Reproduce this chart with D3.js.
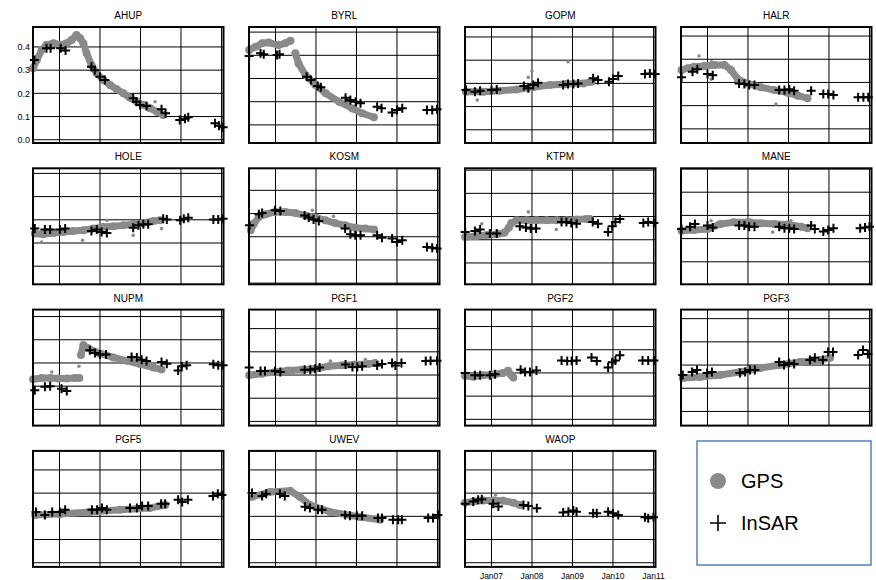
<!DOCTYPE html>
<html>
<head>
<meta charset="utf-8">
<script src="https://cdn.jsdelivr.net/npm/d3@7"></script>
<style>
  body { margin: 0; background: #fff; }
  text { font-family: "Liberation Sans", Arial, sans-serif; }
</style>
</head>
<body>
<svg id="chart" width="876" height="580"></svg>
<script>
// Station names, in panel order (row by row)
const stations = ["AHUP", "BYRL", "GOPM", "HALR", "HOLE", "KOSM", "KTPM", "MANE",
                  "NUPM", "PGF1", "PGF2", "PGF3", "PGF5", "UWEV", "WAOP"];
// top of each panel's y range (every panel spans 0.5)
const yTops = [0.486, 0.422, 0.443, 0.439, 0.422, 0.495, 0.508, 0.503,
               0.43, 0.482, 0.473, 0.439, 0.482, 0.482, 0.482];

const yearTicks = [2007, 2008, 2009, 2010, 2011];
const yearLabels = ["Jan07", "Jan08", "Jan09", "Jan10", "Jan11"];
const yTickValues = [0, 0.1, 0.2, 0.3, 0.4];
const yTickLabels = ["0.0", "0.1", "0.2", "0.3", "0.4"];

// GPS series [decimal year, value]; null = gap in the record
const gpsAHUP = [[2006.35,0.308],[2006.44,0.344],[2006.56,0.387],[2006.68,0.409],[2006.85,0.416],[2007.01,0.409],[2007.18,0.416],[2007.3,0.43],[2007.42,0.452],[2007.51,0.437],[2007.59,0.416],[2007.67,0.373],[2007.79,0.322],[2007.92,0.287],[2008.08,0.258],[2008.25,0.236],[2008.41,0.218],[2008.58,0.2],[2008.74,0.181],[2008.91,0.164],[2009.07,0.15],[2009.24,0.136],[2009.4,0.121],[2009.56,0.107]];
const gpsBYRL = [[2006.35,0.323],[2006.51,0.337],[2006.67,0.352],[2006.83,0.355],[2007.08,0.344],[2007.24,0.352],[2007.37,0.363],null,[2007.49,0.309],[2007.57,0.265],[2007.74,0.215],[2007.99,0.172],[2008.24,0.136],[2008.57,0.1],[2008.9,0.071],[2009.14,0.05],[2009.43,0.033]];
const gpsGOPM = [[2006.37,0.164],[2006.8,0.164],[2007.21,0.168],[2007.62,0.174],[2008.03,0.183],[2008.44,0.193],[2008.85,0.197],[2009.27,0.2],[2009.47,0.207]];
const gpsHALR = [[2006.36,0.254],[2006.51,0.261],[2006.67,0.268],[2006.92,0.271],[2007.17,0.275],[2007.42,0.275],[2007.58,0.254],[2007.75,0.214],[2007.99,0.196],[2008.32,0.179],[2008.65,0.167],[2008.98,0.156],[2009.23,0.143],[2009.47,0.132]];
const gpsHOLE = [[2006.39,0.141],[2006.6,0.138],[2006.85,0.143],[2007.09,0.147],[2007.34,0.152],[2007.59,0.155],[2007.83,0.162],[2008.08,0.169],[2008.33,0.172],[2008.58,0.176],[2008.82,0.181],[2009.07,0.186],[2009.32,0.195],[2009.48,0.198]];
const gpsKOSM = [[2006.39,0.228],[2006.47,0.257],[2006.59,0.285],[2006.76,0.297],[2006.99,0.307],[2007.24,0.307],[2007.49,0.302],[2007.73,0.292],[2007.98,0.283],[2008.23,0.271],[2008.47,0.259],[2008.72,0.249],[2008.97,0.239],[2009.22,0.235],[2009.43,0.231]];
const gpsKTPM = [[2006.35,0.212],[2006.63,0.216],[2006.88,0.22],[2007.13,0.224],[2007.32,0.23],[2007.43,0.253],[2007.49,0.272],[2007.62,0.284],[2007.87,0.284],[2008.11,0.284],[2008.36,0.284],[2008.61,0.284],[2008.85,0.284],[2009.1,0.287],[2009.35,0.29],[2009.43,0.29]];
const gpsMANE = [[2006.36,0.234],[2006.67,0.237],[2007.0,0.241],[2007.32,0.263],[2007.64,0.27],[2007.99,0.27],[2008.32,0.266],[2008.65,0.263],[2008.98,0.261],[2009.31,0.251],[2009.47,0.245]];
const gpsNUPM = [[2006.35,0.13],[2006.56,0.135],[2006.77,0.135],[2006.97,0.133],[2007.18,0.133],[2007.38,0.135],[2007.49,0.135],null,[2007.53,0.234],[2007.59,0.277],[2007.71,0.263],[2008.0,0.241],[2008.33,0.224],[2008.66,0.209],[2008.99,0.195],[2009.32,0.18],[2009.52,0.172]];
const gpsPGF1 = [[2006.35,0.199],[2006.67,0.206],[2006.99,0.213],[2007.32,0.22],[2007.65,0.223],[2007.98,0.227],[2008.31,0.238],[2008.64,0.242],[2008.97,0.245],[2009.3,0.248],[2009.46,0.252]];
const gpsPGF2 = [[2006.35,0.187],[2006.55,0.184],[2006.8,0.19],[2007.04,0.193],[2007.29,0.2],[2007.41,0.209],[2007.49,0.19],[2007.54,0.18]];
const gpsPGF3 = [[2006.39,0.144],[2006.81,0.148],[2007.31,0.157],[2007.8,0.17],[2008.3,0.187],[2008.79,0.2],[2009.28,0.213],[2009.78,0.222],[2010.03,0.231]];
const gpsPGF5 = [[2006.4,0.206],[2007.01,0.21],[2007.75,0.219],[2008.49,0.228],[2009.23,0.236],[2009.61,0.249]];
const gpsUWEV = [[2006.42,0.284],[2006.86,0.305],[2007.36,0.31],[2007.6,0.284],[2007.85,0.249],[2008.35,0.219],[2009.09,0.197],[2009.58,0.185]];
const gpsWAOP = [[2006.35,0.259],[2006.55,0.264],[2006.8,0.268],[2007.04,0.268],[2007.29,0.267],[2007.54,0.259],[2007.7,0.249]];

// stray GPS points off the main band
const spotsAHUP = [[2009.36,0.164]];
const spotsBYRL = [];
const spotsGOPM = [[2008.89,0.293],[2008.0,0.253],[2007.91,0.226],[2006.65,0.128]];
const spotsHALR = [[2006.79,0.314],[2007.1,0.289],[2008.69,0.107],[2007.09,0.214]];
const spotsHOLE = [[2007.57,0.112],[2008.82,0.133],[2006.56,0.104],[2009.52,0.162],[2008.17,0.198]];
const spotsKOSM = [[2007.91,0.314],[2008.43,0.288]];
const spotsKTPM = [[2007.91,0.32],[2008.6,0.244],[2006.76,0.269]];
const spotsMANE = [[2008.61,0.228],[2007.09,0.277],[2008.07,0.28],[2009.06,0.277]];
const spotsNUPM = [[2007.48,0.186],[2006.81,0.161]];
const spotsPGF1 = [[2009.22,0.267],[2008.36,0.26],[2007.44,0.206]];
const spotsPGF2 = [];
const spotsPGF3 = [];
const spotsPGF5 = [];
const spotsUWEV = [];
const spotsWAOP = [[2007.1,0.292]];

// InSAR series [decimal year, value]
const insarAHUP = [[2006.38,0.344],[2006.68,0.394],[2006.78,0.394],[2007.03,0.394],[2007.15,0.385],[2007.79,0.315],[2007.87,0.3],[2008.0,0.272],[2008.12,0.258],[2008.82,0.179],[2008.9,0.164],[2008.99,0.15],[2009.15,0.146],[2009.52,0.131],[2009.62,0.114],[2009.97,0.085],[2010.1,0.09],[2010.18,0.097],[2010.84,0.071],[2010.94,0.06],[2011.04,0.054]];
const insarBYRL = [[2006.35,0.297],[2006.63,0.309],[2006.71,0.305],[2007.04,0.301],[2007.1,0.305],[2007.77,0.208],[2007.88,0.194],[2008.04,0.168],[2008.12,0.162],[2008.73,0.117],[2008.85,0.107],[2008.98,0.1],[2009.1,0.093],[2009.51,0.078],[2009.62,0.072],[2009.88,0.053],[2010.0,0.064],[2010.13,0.072],[2010.74,0.064],[2010.87,0.064],[2010.99,0.067]];
const insarGOPM = [[2006.37,0.171],[2006.59,0.164],[2006.72,0.168],[2007.0,0.171],[2007.13,0.174],[2007.8,0.189],[2007.91,0.179],[2008.03,0.193],[2008.15,0.203],[2008.77,0.193],[2008.89,0.197],[2009.02,0.197],[2009.14,0.2],[2009.51,0.222],[2009.63,0.215],[2009.9,0.207],[2010.0,0.219],[2010.13,0.232],[2010.79,0.24],[2010.91,0.243],[2011.04,0.24]];
const insarHALR = [[2006.36,0.222],[2006.63,0.246],[2006.75,0.257],[2007.0,0.236],[2007.13,0.231],[2007.78,0.196],[2007.91,0.193],[2008.03,0.189],[2008.16,0.189],[2008.77,0.167],[2008.9,0.167],[2009.02,0.171],[2009.14,0.164],[2009.56,0.164],[2009.86,0.15],[2009.98,0.15],[2010.11,0.146],[2010.72,0.136],[2010.85,0.136],[2010.97,0.136]];
const insarHOLE = [[2006.39,0.162],[2006.64,0.158],[2006.77,0.158],[2007.01,0.158],[2007.14,0.162],[2007.79,0.152],[2007.92,0.158],[2008.04,0.147],[2008.17,0.143],[2008.82,0.166],[2008.95,0.176],[2009.07,0.181],[2009.19,0.181],[2009.56,0.205],[2009.65,0.201],[2009.98,0.198],[2010.07,0.205],[2010.18,0.209],[2010.8,0.201],[2010.92,0.201],[2011.04,0.205]];
const insarKOSM = [[2006.36,0.249],[2006.59,0.297],[2006.67,0.302],[2006.99,0.314],[2007.12,0.311],[2007.72,0.292],[2007.82,0.283],[2007.94,0.274],[2008.07,0.268],[2008.72,0.235],[2008.85,0.211],[2008.97,0.206],[2009.1,0.206],[2009.51,0.206],[2009.63,0.196],[2009.88,0.192],[2010.0,0.177],[2010.13,0.185],[2010.74,0.156],[2010.87,0.153],[2010.99,0.149]];
const insarKTPM = [[2006.35,0.233],[2006.59,0.238],[2006.72,0.244],[2006.96,0.227],[2007.13,0.227],[2007.7,0.258],[2007.85,0.253],[2007.97,0.248],[2008.1,0.248],[2008.73,0.277],[2008.85,0.277],[2008.97,0.272],[2009.1,0.269],[2009.5,0.277],[2009.63,0.269],[2009.88,0.233],[2009.98,0.258],[2010.06,0.277],[2010.17,0.29],[2010.75,0.272],[2010.87,0.277],[2011.01,0.272]];
const insarMANE = [[2006.36,0.241],[2006.57,0.251],[2006.69,0.263],[2007.0,0.256],[2007.13,0.248],[2007.78,0.256],[2007.91,0.256],[2008.03,0.251],[2008.16,0.251],[2008.77,0.251],[2008.9,0.245],[2009.02,0.245],[2009.14,0.241],[2009.56,0.256],[2009.65,0.241],[2009.86,0.231],[2009.98,0.237],[2010.11,0.245],[2010.77,0.245],[2010.89,0.248],[2011.0,0.251]];
const insarNUPM = [[2006.39,0.082],[2006.64,0.097],[2006.77,0.1],[2007.05,0.089],[2007.18,0.079],[2007.75,0.255],[2007.88,0.243],[2008.0,0.237],[2008.15,0.237],[2008.78,0.226],[2008.91,0.223],[2009.03,0.214],[2009.15,0.208],[2009.52,0.204],[2009.65,0.197],[2009.93,0.168],[2010.02,0.186],[2010.14,0.19],[2010.8,0.194],[2010.92,0.19],[2011.04,0.19]];
const insarPGF1 = [[2006.35,0.232],[2006.63,0.217],[2006.74,0.217],[2006.99,0.217],[2007.12,0.213],[2007.72,0.223],[2007.86,0.223],[2007.98,0.227],[2008.09,0.232],[2008.73,0.245],[2008.9,0.235],[2009.02,0.235],[2009.14,0.238],[2009.51,0.241],[2009.63,0.248],[2009.88,0.252],[2009.96,0.241],[2010.11,0.252],[2010.71,0.26],[2010.83,0.262],[2010.99,0.262]];
const insarPGF2 = [[2006.35,0.2],[2006.59,0.19],[2006.72,0.19],[2006.96,0.19],[2007.09,0.194],[2007.72,0.214],[2007.83,0.204],[2007.95,0.204],[2008.11,0.211],[2008.73,0.254],[2008.87,0.251],[2008.98,0.251],[2009.1,0.254],[2009.47,0.266],[2009.6,0.251],[2009.88,0.223],[2009.98,0.246],[2010.06,0.254],[2010.17,0.276],[2010.73,0.254],[2010.87,0.254],[2011.01,0.254]];
const insarPGF3 = [[2006.39,0.157],[2006.62,0.17],[2006.74,0.179],[2006.99,0.166],[2007.11,0.17],[2007.8,0.166],[2007.93,0.17],[2008.05,0.179],[2008.17,0.179],[2008.77,0.213],[2008.89,0.2],[2009.01,0.209],[2009.14,0.205],[2009.53,0.222],[2009.65,0.231],[2009.85,0.222],[2009.98,0.256],[2010.1,0.256],[2010.72,0.243],[2010.84,0.265],[2010.96,0.248]];
const insarPGF5 = [[2006.42,0.219],[2006.64,0.206],[2006.82,0.219],[2007.01,0.219],[2007.14,0.228],[2007.8,0.228],[2007.93,0.228],[2008.05,0.236],[2008.17,0.228],[2008.74,0.236],[2008.91,0.236],[2009.04,0.245],[2009.19,0.245],[2009.51,0.254],[2009.61,0.254],[2009.93,0.271],[2010.03,0.262],[2010.17,0.271],[2010.79,0.288],[2010.91,0.297],[2011.01,0.292]];
const insarUWEV = [[2006.42,0.301],[2006.67,0.288],[2006.77,0.297],[2007.11,0.297],[2007.23,0.288],[2007.73,0.241],[2007.85,0.236],[2008.05,0.228],[2008.15,0.228],[2008.72,0.206],[2008.84,0.202],[2009.01,0.202],[2009.14,0.202],[2009.53,0.193],[2009.63,0.193],[2009.9,0.185],[2010.03,0.185],[2010.12,0.185],[2010.77,0.193],[2010.89,0.193],[2011.01,0.206]];
const insarWAOP = [[2006.35,0.254],[2006.55,0.264],[2006.67,0.271],[2006.76,0.274],[2007.04,0.254],[2007.17,0.242],[2007.79,0.249],[2007.91,0.245],[2008.12,0.235],[2008.77,0.216],[2008.9,0.22],[2009.02,0.225],[2009.1,0.22],[2009.51,0.213],[2009.6,0.213],[2009.88,0.22],[2010.0,0.213],[2010.13,0.206],[2010.79,0.196],[2010.87,0.192],[2011.0,0.196]];

const gpsList = [gpsAHUP, gpsBYRL, gpsGOPM, gpsHALR, gpsHOLE, gpsKOSM, gpsKTPM, gpsMANE,
                 gpsNUPM, gpsPGF1, gpsPGF2, gpsPGF3, gpsPGF5, gpsUWEV, gpsWAOP];
const spotList = [spotsAHUP, spotsBYRL, spotsGOPM, spotsHALR, spotsHOLE, spotsKOSM, spotsKTPM, spotsMANE,
                  spotsNUPM, spotsPGF1, spotsPGF2, spotsPGF3, spotsPGF5, spotsUWEV, spotsWAOP];
const insarList = [insarAHUP, insarBYRL, insarGOPM, insarHALR, insarHOLE, insarKOSM, insarKTPM, insarMANE,
                   insarNUPM, insarPGF1, insarPGF2, insarPGF3, insarPGF5, insarUWEV, insarWAOP];

// layout
const panelW = 190.5, panelH = 116;
const colStep = 216, rowStep = 141.3;
const x0 = 33, y0 = 27;
const gpsColor = "#8a8a8a";

const svg = d3.select("#chart");

const x = d3.scaleLinear().domain([2006.346, 2011.05]).range([0, panelW]);

stations.forEach((name, i) => {
    const col = i % 4, row = Math.floor(i / 4);
    const g = svg.append("g")
        .attr("transform", `translate(${x0 + col * colStep},${y0 + row * rowStep})`);

    const y = d3.scaleLinear().domain([yTops[i] - 0.5, yTops[i]]).range([panelH, 0]);

    // horizontal grid at every 0.1 inside the panel
    const hLines = d3.range(Math.ceil((yTops[i] - 0.5) * 10 + 0.01), Math.floor(yTops[i] * 10) + 1)
        .map(k => k / 10);
    g.selectAll(".hgrid")
        .data(hLines)
        .enter()
        .append("line")
        .attr("x1", 0).attr("x2", panelW)
        .attr("y1", d => y(d)).attr("y2", d => y(d))
        .attr("stroke", "#000").attr("stroke-width", 1);

    g.selectAll(".vgrid")
        .data(yearTicks)
        .enter()
        .append("line")
        .attr("x1", d => x(d)).attr("x2", d => x(d))
        .attr("y1", 0).attr("y2", panelH)
        .attr("stroke", "#000").attr("stroke-width", 1);

    // GPS band: thick line through the readings plus a dot on each
    const line = d3.line()
        .defined(d => d !== null)
        .x(d => x(d[0]))
        .y(d => y(d[1]));
    g.append("path")
        .datum(gpsList[i])
        .attr("d", line)
        .attr("fill", "none")
        .attr("stroke", gpsColor)
        .attr("stroke-width", 7)
        .attr("stroke-linejoin", "round")
        .attr("stroke-linecap", "round");

    g.selectAll(".gpsdot")
        .data(gpsList[i].filter(d => d !== null))
        .enter()
        .append("circle")
        .attr("cx", d => x(d[0]))
        .attr("cy", d => y(d[1]))
        .attr("r", 4)
        .attr("fill", gpsColor);

    g.selectAll(".spot")
        .data(spotList[i])
        .enter()
        .append("circle")
        .attr("cx", d => x(d[0]))
        .attr("cy", d => y(d[1]))
        .attr("r", 1.8)
        .attr("fill", gpsColor);

    // InSAR crosses
    g.selectAll(".insar")
        .data(insarList[i])
        .enter()
        .append("path")
        .attr("transform", d => `translate(${x(d[0])},${y(d[1])})`)
        .attr("d", "M-4.5,0H4.5M0,-4.5V4.5")
        .attr("stroke", "#000")
        .attr("stroke-width", 2);

    // frame
    g.append("rect")
        .attr("width", panelW).attr("height", panelH)
        .attr("fill", "none")
        .attr("stroke", "#000")
        .attr("stroke-width", 2);

    g.append("text")
        .attr("x", panelW / 2)
        .attr("y", -8)
        .attr("text-anchor", "middle")
        .style("font-size", "10px")
        .text(name);

    // y labels on the first panel only
    if (i === 0) {
        g.selectAll(".ylab")
            .data(yTickValues)
            .enter()
            .append("text")
            .attr("x", -3)
            .attr("y", d => y(d))
            .attr("dy", "0.35em")
            .attr("text-anchor", "end")
            .style("font-size", "9px")
            .text((d, k) => yTickLabels[k]);
    }
    // date labels under the last panel
    if (i === stations.length - 1) {
        g.selectAll(".xlab")
            .data(yearTicks)
            .enter()
            .append("text")
            .attr("x", d => x(d))
            .attr("y", panelH + 12)
            .attr("text-anchor", "middle")
            .style("font-size", "8.5px")
            .text((d, k) => yearLabels[k]);
    }
});

// legend
const legend = svg.append("g").attr("transform", "translate(697,441)");
legend.append("rect")
    .attr("width", 174).attr("height", 124)
    .attr("fill", "#fff")
    .attr("stroke", "#4f81bd")
    .attr("stroke-width", 1.5);
legend.append("circle")
    .attr("cx", 21).attr("cy", 40).attr("r", 8)
    .attr("fill", gpsColor);
legend.append("text")
    .attr("x", 44).attr("y", 40).attr("dy", "0.35em")
    .style("font-size", "20px")
    .text("GPS");
legend.append("path")
    .attr("transform", "translate(21,82)")
    .attr("d", "M-8,0H8M0,-8V8")
    .attr("stroke", "#000")
    .attr("stroke-width", 1.6);
legend.append("text")
    .attr("x", 44).attr("y", 82).attr("dy", "0.35em")
    .style("font-size", "20px")
    .text("InSAR");
</script>
</body>
</html>
